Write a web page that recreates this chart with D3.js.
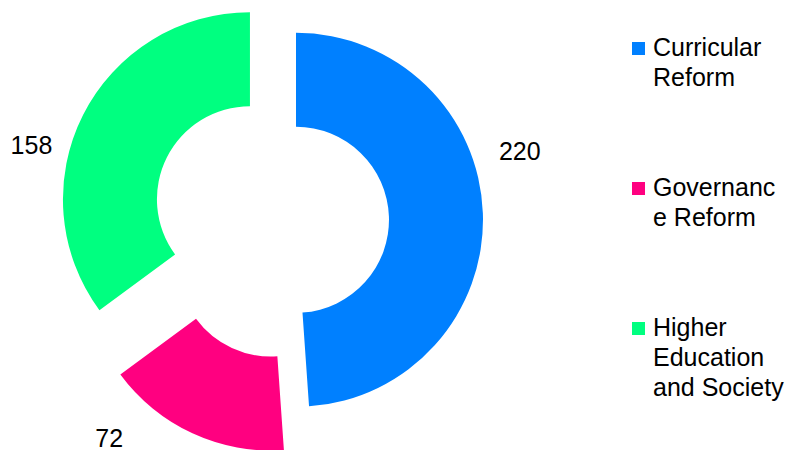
<!DOCTYPE html>
<html>
<head>
<meta charset="utf-8">
<script src="https://cdn.jsdelivr.net/npm/d3@7"></script>
<style>
  html, body { margin: 0; padding: 0; background: #fff; }
  svg text { font-family: "Liberation Sans", Arial, Helvetica, sans-serif; fill: #000; }
</style>
</head>
<body>
<div id="chart"></div>
<script>
// data
var categories = ["Curricular Reform", "Governance Reform", "Higher Education and Society"];
var values = [220, 72, 158];
var colors = ["#0080ff", "#ff0080", "#00ff80"];

// layout (not data)
var width = 796, height = 450;
var center = [291, 220];
var outerR = 187, innerR = 93;
var explode = [5, 48, 46];            // how far each slice is pulled out
var labelShift = [-15, 18, -13];      // degrees off the bisector
var labelDist = [234, 238, 225];
var fontSize = 25;

var svg = d3.select("#chart").append("svg")
    .attr("width", width)
    .attr("height", height);

var color = d3.scaleOrdinal().domain(categories).range(colors);

var pie = d3.pie().sort(null).value(function(d) { return d.value; });
var arc = d3.arc().innerRadius(innerR).outerRadius(outerR);

var slices = pie(categories.map(function(c, i) { return { name: c, value: values[i], i: i }; }));

function polar(angle, r) {
    return [Math.sin(angle) * r, -Math.cos(angle) * r];
}

var g = svg.append("g").attr("transform", "translate(" + center[0] + "," + center[1] + ")");

var slice = g.selectAll(".slice")
    .data(slices)
    .enter()
    .append("g")
    .attr("class", "slice")
    .attr("transform", function(d, i) {
        var mid = (d.startAngle + d.endAngle) / 2;
        var p = polar(mid, explode[i]);
        return "translate(" + p[0] + "," + p[1] + ")";
    });

slice.append("path")
    .attr("d", arc)
    .attr("fill", function(d) { return color(d.data.name); });

slice.append("text")
    .attr("text-anchor", "middle")
    .attr("dy", "0.35em")
    .style("font-size", fontSize + "px")
    .attr("transform", function(d, i) {
        var mid = (d.startAngle + d.endAngle) / 2 + labelShift[i] * Math.PI / 180;
        var p = polar(mid, labelDist[i]);
        return "translate(" + p[0] + "," + p[1] + ")";
    })
    .text(function(d) { return d.data.value; });

// legend
var legendX = 632, legendTop = 56, legendStep = 140, lineH = 30, maxW = 134;

var legend = svg.append("g").attr("class", "legend");

var item = legend.selectAll(".item")
    .data(categories)
    .enter()
    .append("g")
    .attr("class", "item")
    .attr("transform", function(d, i) { return "translate(" + legendX + "," + (legendTop + i * legendStep) + ")"; });

item.append("rect")
    .attr("x", 0)
    .attr("y", -14)
    .attr("width", 13)
    .attr("height", 13)
    .attr("fill", function(d) { return color(d); });

item.each(function(d) {
    var text = d3.select(this).append("text")
        .attr("x", 21)
        .attr("y", 0)
        .style("font-size", fontSize + "px");

    var probe = text.append("tspan");
    function fits(s) { probe.text(s); return probe.node().getComputedTextLength() <= maxW; }

    // word wrap, break a word by chars when it alone is too wide
    var words = d.split(" "), lines = [], cur = "";
    words.forEach(function(w) {
        var tryLine = cur ? cur + " " + w : w;
        if (fits(tryLine)) { cur = tryLine; return; }
        if (cur) { lines.push(cur); cur = ""; }
        var rest = w;
        while (!fits(rest)) {
            var k = rest.length - 1;
            while (k > 1 && !fits(rest.slice(0, k))) k--;
            lines.push(rest.slice(0, k));
            rest = rest.slice(k);
        }
        cur = rest;
    });
    if (cur) lines.push(cur);
    probe.remove();

    lines.forEach(function(l, j) {
        text.append("tspan")
            .attr("x", 21)
            .attr("y", j * lineH)
            .text(l);
    });
});
</script>
</body>
</html>
